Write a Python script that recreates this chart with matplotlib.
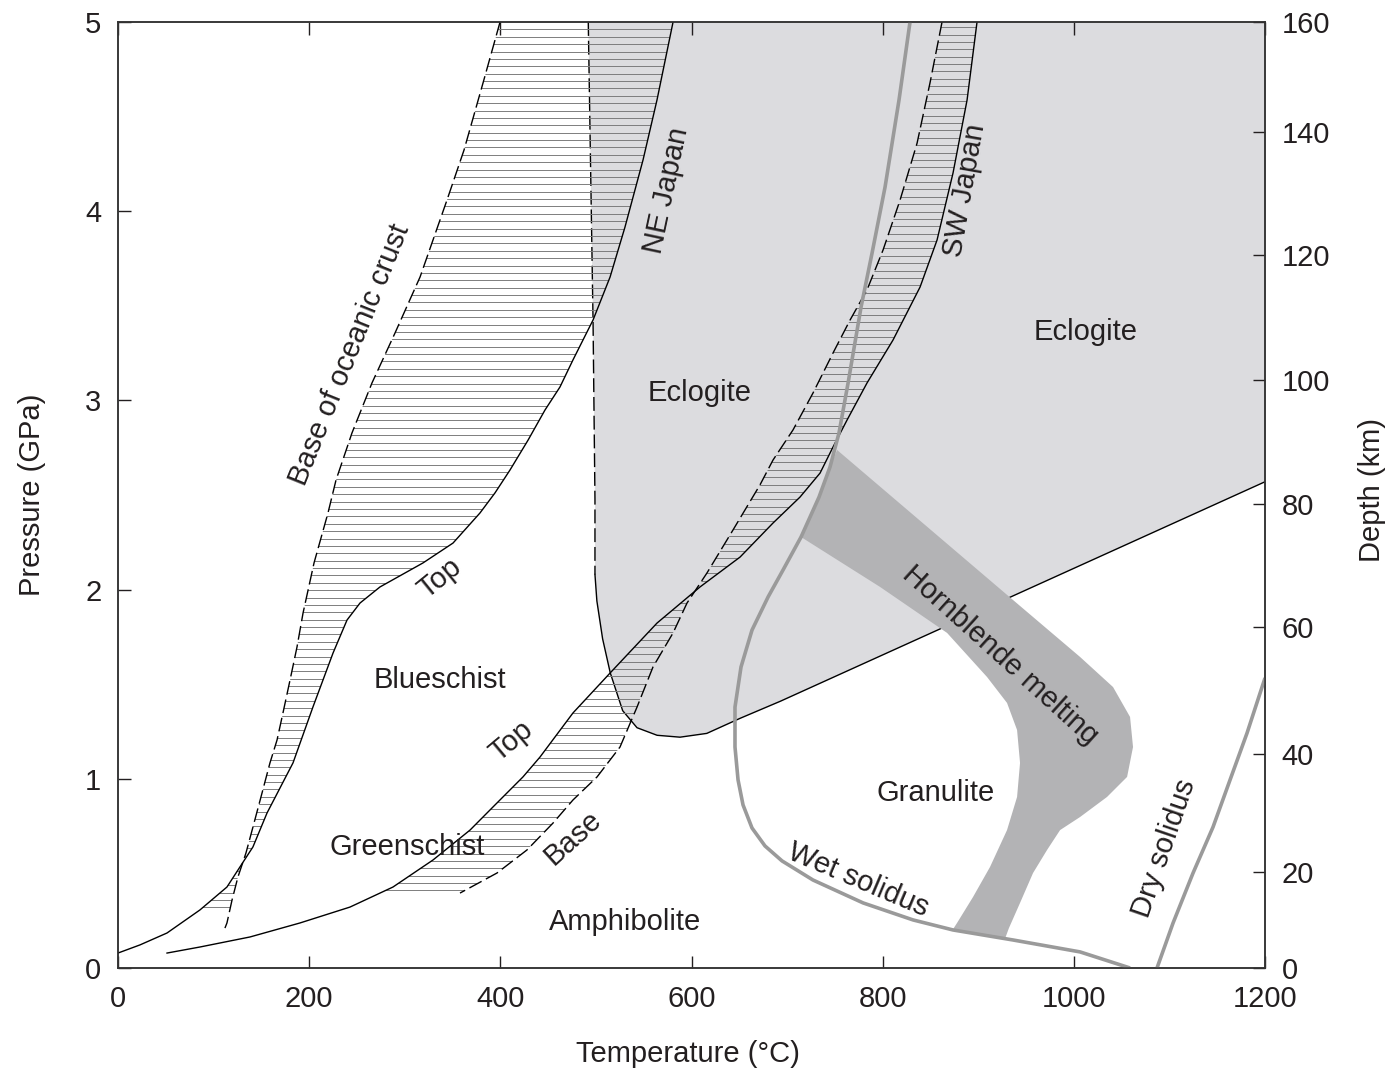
import numpy as np
import matplotlib.pyplot as plt
from matplotlib.patches import Polygon

plt.rcParams['font.family'] = ['Liberation Sans', 'DejaVu Sans']

# -----------------------------
# Data (T in deg C, P in GPa)
# -----------------------------

# right axis: depth ticks and the pressure they sit at
depth_km = [0, 20, 40, 60, 80, 100, 120, 140, 160]
depth_pressure = [0.0, 0.51, 1.13, 1.80, 2.45, 3.11, 3.77, 4.42, 5.0]

# eclogite field, lower/left boundary (first points are the dashed part)
eclogite_T = [492, 497, 499, 499, 501, 507, 515, 528, 543, 564, 588, 616, 651, 693, 1200]
eclogite_P = [5.0, 3.42, 2.48, 2.08, 1.94, 1.74, 1.56, 1.36, 1.27, 1.23, 1.22, 1.24, 1.32, 1.41, 2.57]
eclogite_dashed_n = 4

# NE Japan slab: top (solid) and base of oceanic crust (dashed)
ne_top_T = [580.7, 563.9, 549.3, 530.4, 514.8, 497.0, 476.0, 462.4, 446.7, 429.0, 410.1, 394.4,
            378.7, 350.5, 319.1, 274.1, 253.2, 239.6, 225.0, 204.0, 183.1, 155.9, 141.2, 127.6,
            114.0, 85.8, 51.3, 23.0, 0.0]
ne_top_P = [5.0, 4.588, 4.271, 3.916, 3.652, 3.425, 3.214, 3.071, 2.949, 2.790, 2.632, 2.511,
            2.405, 2.246, 2.141, 2.014, 1.929, 1.839, 1.665, 1.380, 1.084, 0.819, 0.640, 0.534,
            0.428, 0.307, 0.185, 0.122, 0.079]
ne_base_T = [399.7, 381.9, 362.0, 344.2, 316.0, 289.8, 265.7, 244.8, 228.1, 219.7, 205.1, 193.6,
             187.3, 180.0, 172.6, 166.4, 159.0, 150.7, 141.2, 133.9, 125.5, 119.3, 114.0, 111.9]
ne_base_P = [5.0, 4.678, 4.323, 4.059, 3.652, 3.356, 3.092, 2.828, 2.579, 2.405, 2.141, 1.876,
             1.697, 1.522, 1.348, 1.205, 1.084, 0.925, 0.745, 0.608, 0.481, 0.359, 0.238, 0.211]

# SW Japan slab
sw_top_T = [898.7, 888.3, 873.6, 856.9, 839.1, 810.8, 783.6, 762.7, 748.1, 734.5, 713.5, 685.3,
            650.8, 608.9, 563.9, 514.8, 476.0, 441.5, 423.7, 392.3, 368.3, 329.6, 287.7, 242.7,
            190.4, 138.1, 85.8, 51.3]
sw_top_P = [5.0, 4.588, 4.202, 3.848, 3.599, 3.319, 3.092, 2.896, 2.754, 2.616, 2.489, 2.352,
            2.172, 2.014, 1.823, 1.559, 1.348, 1.115, 1.010, 0.851, 0.729, 0.571, 0.428, 0.322,
            0.238, 0.164, 0.111, 0.079]
sw_base_T = [862.1, 849.5, 836.0, 818.2, 800.4, 783.6, 765.9, 748.1, 727.1, 706.2, 685.3, 671.6,
             643.4, 616.2, 595.3, 580.7, 559.7, 543.0, 525.2, 501.2, 476.0, 455.1, 427.9, 396.5, 357.8]
sw_base_P = [5.0, 4.678, 4.360, 4.059, 3.795, 3.584, 3.425, 3.251, 3.039, 2.844, 2.685, 2.553,
             2.315, 2.088, 1.929, 1.771, 1.591, 1.379, 1.168, 1.010, 0.888, 0.766, 0.624, 0.502, 0.396]

# solidi
wet_T = [828.6, 817.1, 802.5, 788.9, 777.4, 763.8, 754.3, 744.9, 733.4, 714.6, 695.8, 680.1,
         663.3, 651.8, 645.5, 645.5, 648.7, 653.9, 663.3, 676.9, 694.7, 727.1, 779.5, 831.8,
         873.6, 936.4, 1006.5, 1058.8]
wet_P = [5.0, 4.588, 4.128, 3.779, 3.494, 3.092, 2.828, 2.648, 2.489, 2.278, 2.104, 1.961,
         1.786, 1.591, 1.379, 1.168, 0.994, 0.862, 0.740, 0.645, 0.566, 0.465, 0.344, 0.254,
         0.201, 0.148, 0.085, 0.0]
dry_T = [1087.0, 1103.8, 1124.7, 1145.6, 1163.4, 1181.2, 1200.0]
dry_P = [0.0, 0.238, 0.502, 0.745, 0.994, 1.242, 1.533]

# hornblende melting band (upper edge, lower edge, back along wet solidus)
hbl_T = [752.3, 936.4, 1006.5, 1041.0, 1058.8, 1061.9, 1055.7, 1034.7, 1006.5, 985.6, 972.0,
         957.3, 943.7, 932.0, 928.0, 873.6, 877.8, 894.5, 912.3, 930.1, 940.6, 943.7, 940.6,
         930.1, 909.2, 867.4, 797.3, 714.6, 733.4, 744.9]
hbl_P = [2.738, 1.945, 1.644, 1.485, 1.327, 1.168, 1.010, 0.904, 0.798, 0.729, 0.624,
         0.502, 0.344, 0.210, 0.155, 0.205, 0.238, 0.375, 0.534, 0.729, 0.904, 1.084, 1.258,
         1.401, 1.538, 1.771, 2.014, 2.278, 2.489, 2.648]

# field labels: text, T, P, rotation
labels = [
    ("Base of oceanic crust", 243, 3.24, 68),
    ("NE Japan", 574, 4.11, 78),
    ("SW Japan", 886, 4.11, 80),
    ("Eclogite", 609, 3.04, 0),
    ("Eclogite", 1012, 3.36, 0),
    ("Top", 337, 2.06, 39),
    ("Top", 412, 1.20, 40),
    ("Blueschist", 337, 1.52, 0),
    ("Greenschist", 303, 0.64, 0),
    ("Base", 476, 0.69, 42),
    ("Amphibolite", 531, 0.243, 0),
    ("Hornblende melting", 923, 1.654, -42),
    ("Granulite", 855, 0.925, 0),
    ("Wet solidus", 774, 0.465, -23),
    ("Dry solidus", 1095, 0.634, 71),
]

# -----------------------------
# Styles
# -----------------------------
FS = 21
TEXT_C = "#231f20"
ECLOGITE_C = "#dcdcdf"
HBL_C = "#b3b3b5"
SOLIDUS_C = "#9a9a9a"
HATCH_C = "#7d7d7d"
DASH = (0, (10, 3.5))


def hatch_band(ax, top_T, top_P, base_T, base_P, p_min, spacing=0.039):
    verts = np.column_stack([np.r_[top_T, base_T[::-1]], np.r_[top_P, base_P[::-1]]])
    poly = Polygon(verts, closed=True, facecolor="none", edgecolor="none")
    ax.add_patch(poly)
    levels = np.arange(p_min, 5.0, spacing)
    lines = ax.hlines(levels, 0, 1200, colors=HATCH_C, linewidth=0.7, zorder=3)
    lines.set_clip_path(poly)


fig = plt.figure(figsize=(13.88, 10.74), dpi=100)
ax = fig.add_axes([0.0850, 0.0987, 0.8264, 0.8808])

# eclogite field
ecl = Polygon(np.column_stack([eclogite_T + [1200], eclogite_P + [5.0]]), closed=True,
              facecolor=ECLOGITE_C, edgecolor="none", zorder=1)
ax.add_patch(ecl)
ax.plot(eclogite_T[:eclogite_dashed_n], eclogite_P[:eclogite_dashed_n], color="k",
        lw=1.0, linestyle=DASH, zorder=2)
ax.plot(eclogite_T[eclogite_dashed_n - 1:], eclogite_P[eclogite_dashed_n - 1:], color="k",
        lw=1.0, zorder=2)

# hornblende melting
ax.add_patch(Polygon(np.column_stack([hbl_T, hbl_P]), closed=True, facecolor=HBL_C,
                     edgecolor="none", zorder=2.5))

# slab bands
hatch_band(ax, np.array(ne_top_T), np.array(ne_top_P), np.array(ne_base_T), np.array(ne_base_P), 0.32)
hatch_band(ax, np.array(sw_top_T), np.array(sw_top_P), np.array(sw_base_T), np.array(sw_base_P), 0.41)

ax.plot(ne_top_T, ne_top_P, color="k", lw=1.0, zorder=4)
ax.plot(ne_base_T, ne_base_P, color="k", lw=1.0, linestyle=DASH, zorder=4)
ax.plot(sw_top_T, sw_top_P, color="k", lw=1.0, zorder=4)
ax.plot(sw_base_T, sw_base_P, color="k", lw=1.0, linestyle=DASH, zorder=4)

# solidi
ax.plot(wet_T, wet_P, color=SOLIDUS_C, lw=2.6, zorder=5, solid_capstyle="butt")
ax.plot(dry_T, dry_P, color=SOLIDUS_C, lw=2.6, zorder=5, solid_capstyle="butt")

for txt, t, p, rot in labels:
    ax.text(t, p, txt, fontsize=FS, color=TEXT_C, rotation=rot, ha="center", va="center",
            rotation_mode="anchor", zorder=6)

ax.set_xlim(0, 1200)
ax.set_ylim(0, 5)
ax.set_xticks(range(0, 1201, 200))
ax.set_yticks(range(0, 6))
ax.tick_params(direction="in", length=9, width=1.0, labelsize=FS, pad=12,
               top=True, right=False, colors=TEXT_C)
for s in ax.spines.values():
    s.set_linewidth(1.1)
    s.set_color("#333333")

ax.set_xlabel("Temperature (°C)", fontsize=FS, color=TEXT_C)
ax.xaxis.set_label_coords(0.497, -0.076)
ax.set_ylabel("Pressure (GPa)", fontsize=FS, color=TEXT_C)
ax.yaxis.set_label_coords(-0.063, 0.5)

ax2 = ax.twinx()
ax2.set_ylim(0, 5)
ax2.set_yticks(depth_pressure, [str(d) for d in depth_km])
ax2.tick_params(direction="in", length=9, width=1.0, labelsize=FS, pad=12, colors=TEXT_C)
for s in ax2.spines.values():
    s.set_linewidth(1.1)
    s.set_color("#333333")
ax2.set_ylabel("Depth (km)", fontsize=FS, color=TEXT_C)
ax2.yaxis.set_label_coords(1.081, 0.505)

fig.savefig("out.png", dpi=100)
